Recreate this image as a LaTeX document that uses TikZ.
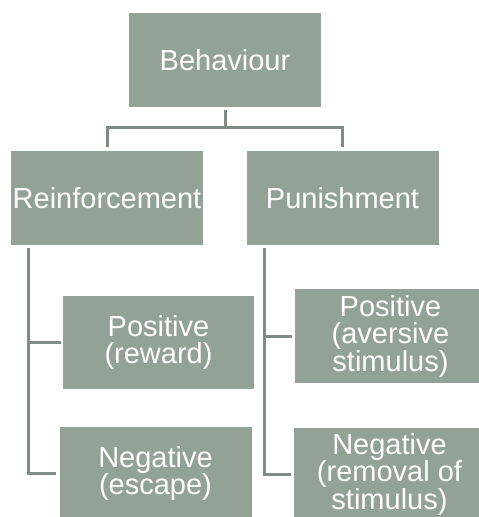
\documentclass[tikz,border=0pt]{standalone}
\usepackage{fontspec}
\setmainfont{Liberation Sans}
\definecolor{boxfill}{HTML}{93A297}
\definecolor{linec}{HTML}{7E8C85}
\begin{document}
\begin{tikzpicture}[x=1pt,y=-1pt,
  box/.style={fill=boxfill, draw=none, minimum width=192pt, minimum height=94pt, inner sep=0pt,
    text=white, align=center, font=\fontsize{29}{27.5}\selectfont},
  conn/.style={draw=linec, line width=3pt}]
\useasboundingbox (0,0) rectangle (479,517);
\clip (0,0) rectangle (479,517);
\node[box] (beh) at (225,60) {Behaviour};
\node[box] (rein) at (107,198) {Reinforcement};
\node[box] (pun) at (342.5,198) {Punishment};
\node[box, minimum width=191pt, minimum height=93pt] (pos1) at (158.5,342.5) {Positive\\(reward)};
\node[box, minimum height=93pt] (neg1) at (155.5,473.5) {Negative\\(escape)};
\node[box] (pos2) at (390.5,336) {Positive\\(aversive\\stimulus)};
\node[box, minimum height=93pt] (neg2) at (389.5,474) {Negative\\(removal of\\stimulus)};
\draw[conn] ([yshift=-3pt]beh.south) -- ++(0,18);
\draw[conn] ([yshift=4pt]rein.north) -- ++(0,-19) -| ([yshift=4pt]pun.north);
\draw[conn] ([xshift=18pt,yshift=-3pt]rein.south west) |- ([xshift=-2pt]pos1.west);
\draw[conn] ([xshift=18pt,yshift=-3pt]rein.south west) |- ([xshift=-3pt]neg1.west);
\draw[conn] ([xshift=18pt,yshift=-3pt]pun.south west) |- ([xshift=-2pt]pos2.west);
\draw[conn] ([xshift=18pt,yshift=-3pt]pun.south west) |- ([xshift=-2pt]neg2.west);
\end{tikzpicture}
\end{document}
